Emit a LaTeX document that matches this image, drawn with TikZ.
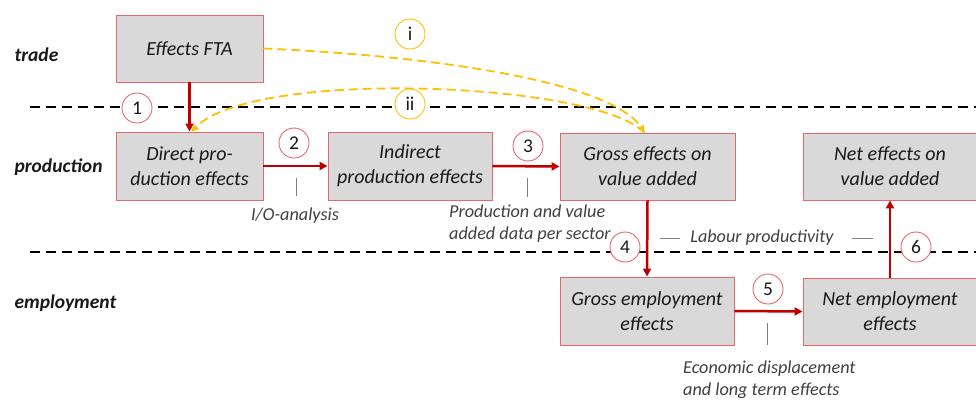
\documentclass[tikz,border=0pt]{standalone}
\usepackage{fontspec}
\setmainfont{Carlito}
\usetikzlibrary{arrows.meta}
\definecolor{boxfill}{HTML}{D9D9D9}
\definecolor{boxline}{HTML}{E8676B}
\definecolor{arrred}{HTML}{C00000}
\definecolor{gold}{HTML}{FFC000}
\definecolor{txtgray}{HTML}{404040}
\definecolor{tickgray}{HTML}{7F7F7F}
\tikzset{
  effbox/.style={draw=boxline, line width=0.9pt, fill=boxfill, align=center, inner sep=0pt,
    font=\fontsize{20}{25}\selectfont\itshape, text=black!90},
  numcirc/.style={circle, draw=boxline, line width=0.9pt, fill=white, minimum size=30pt, inner sep=0pt,
    font=\fontsize{19.5}{20}\selectfont, text=black!90},
  goldcirc/.style={numcirc, draw=gold},
  flow/.style={draw=arrred, line width=2.5pt, -{Triangle[length=8pt,width=8pt]}},
  goldflow/.style={draw=gold, line width=1.8pt, dash pattern=on 9pt off 5pt, -{Triangle[length=7pt,width=7pt]}},
  sep/.style={draw=black, line width=2.4pt, dash pattern=on 10pt off 6pt},
  layer/.style={anchor=west, font=\fontsize{19.5}{20}\selectfont\bfseries\itshape, text=black!90},
  note/.style={font=\fontsize{18.2}{22}\selectfont\itshape, text=txtgray, align=left, inner sep=0pt},
  tickl/.style={draw=tickgray, line width=1pt},
}
\begin{document}
\begin{tikzpicture}[x=1pt,y=-1pt]
\useasboundingbox (0,0) rectangle (976,399);
% separators
\coordinate (s1a) at (30,107); \coordinate (s1b) at (980,107);
\coordinate (s2a) at (30,252); \coordinate (s2b) at (980,252);
\draw[sep] (s1a) -- (s1b);
\draw[sep] (s2a) -- (s2b);
% layer labels
\node[layer] (ltrade) at (11,55) {trade};
\node[layer] (lprod) at (11,167) {production};
\node[layer] (lemp) at (11,303) {employment};
% boxes
\node[effbox, minimum width=147pt, minimum height=67pt] (fta) at (189.5,48.5) {Effects FTA};
\node[effbox, minimum width=147pt, minimum height=68pt] (direct) at (189.5,166) {Direct pro-\\duction effects};
\node[effbox, minimum width=164pt, minimum height=68pt] (indirect) at (410,166) {Indirect\\production effects};
\node[effbox, minimum width=175pt, minimum height=67pt] (grossva) at (647.5,166.5) {Gross effects on\\value added};
\node[effbox, minimum width=174pt, minimum height=67pt] (netva) at (890,166.5) {Net effects on\\value added};
\node[effbox, minimum width=174pt, minimum height=68pt] (grossemp) at (647,311) {Gross employment\\effects};
\node[effbox, minimum width=174pt, minimum height=67pt] (netemp) at (890,311.5) {Net employment\\effects};
% red flows
\draw[flow] (fta.south) -- (direct.north);
\draw[flow] (direct.east) -- (indirect.west);
\draw[flow] (indirect.east) -- (grossva.west);
\draw[flow] (grossva.south) -- (grossemp.north);
\draw[flow] (grossemp.east) -- (netemp.west);
\draw[flow] (netemp.north) -- (netva.south);
% gold curves
\coordinate (gvtop) at ([xshift=-3pt]grossva.north);
\coordinate (dtop) at ([xshift=2pt]direct.north);
\draw[goldflow] (fta.east) .. controls (420,55) and (610,80) .. (gvtop);
\draw[goldflow] (gvtop) .. controls (595,82) and (255,68) .. (dtop);
% circles
\node[numcirc] (c1) at (137,108) {1};
\node[numcirc] (c2) at (294,143) {2};
\node[numcirc] (c3) at (528,146) {3};
\node[numcirc] (c4) at (625,247) {4};
\node[numcirc] (c5) at (768,289) {5};
\node[numcirc] (c6) at (916,247) {6};
\node[goldcirc] (ci) at (410,34) {i};
\node[goldcirc] (cii) at (410,104) {ii};
% ticks and notes
\coordinate (t2a) at (296,178); \coordinate (t2b) at (296,196);
\coordinate (t3a) at (527,178); \coordinate (t3b) at (527,197);
\coordinate (t5a) at (767,323); \coordinate (t5b) at (767,345);
\draw[tickl] (t2a) -- (t2b);
\draw[tickl] (t3a) -- (t3b);
\draw[tickl] (t5a) -- (t5b);
\node[note] (nio) at (295,216) {I/O-analysis};
\node[note, anchor=west] (nprod) at (449,224) {Production and value\\added data per sector};
\node[note, anchor=west] (necon) at (683,379.5) {Economic displacement\\and long term effects};
\node[note] (nlab) at (762,238) {Labour productivity};
\coordinate (la1) at (660,238); \coordinate (la2) at (680,238);
\coordinate (lb1) at (852,238); \coordinate (lb2) at (873,238);
\draw[tickl] (la1) -- (la2);
\draw[tickl] (lb1) -- (lb2);
\end{tikzpicture}
\end{document}
